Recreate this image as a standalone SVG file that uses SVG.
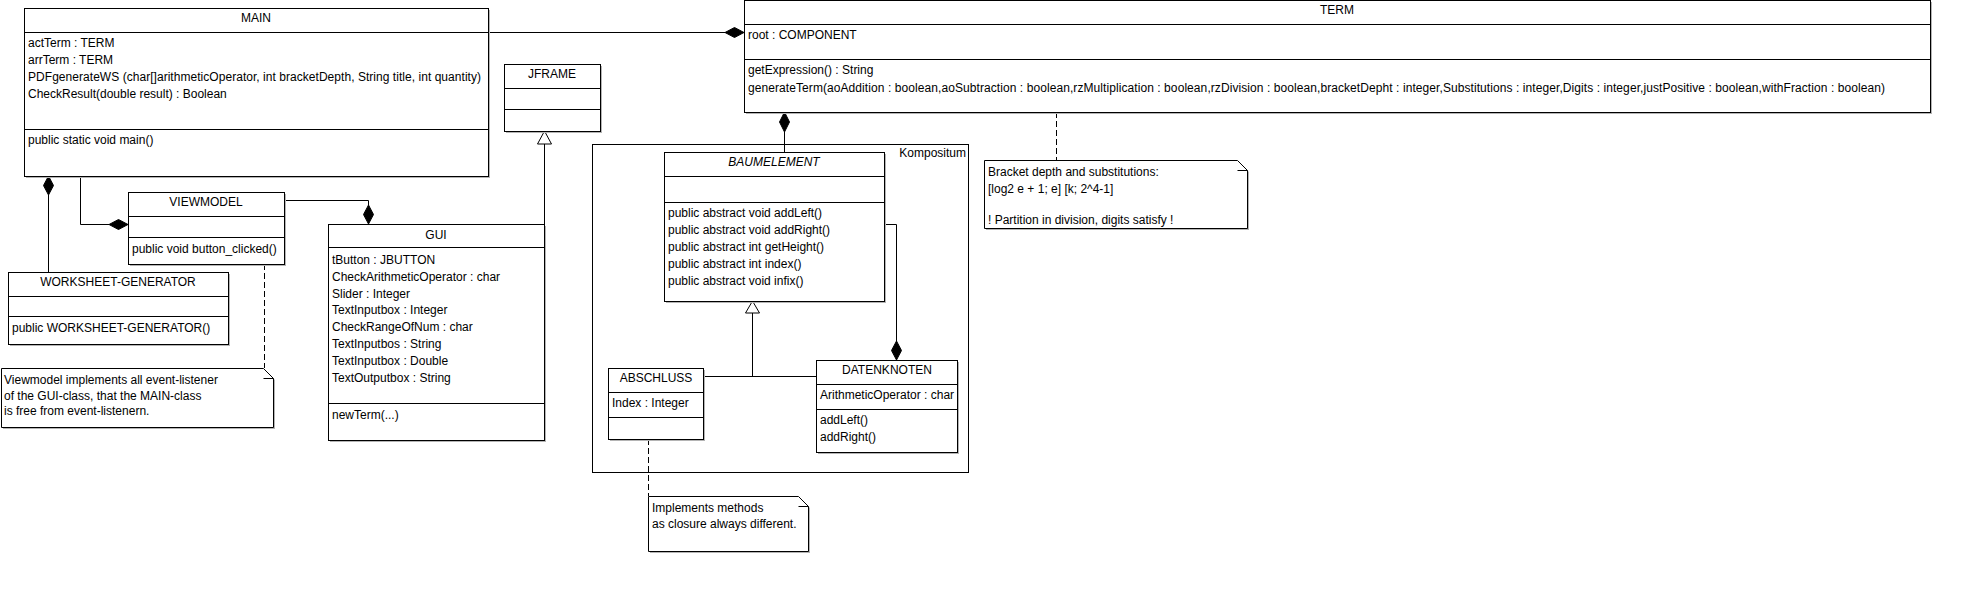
<svg xmlns="http://www.w3.org/2000/svg" width="1968" height="592" viewBox="0 0 1968 592">
<style>
text{font-family:"Liberation Sans",Arial,sans-serif;font-size:12px;fill:#000}
.c{text-anchor:middle}
.r{text-anchor:end}
.i{font-style:italic}
.box{fill:#fff;stroke:#000;stroke-width:1}
.sh{fill:#b4b4b4;stroke:none}
.ln{stroke:#000;stroke-width:1;fill:none}
.dash{stroke:#000;stroke-width:1;fill:none;stroke-dasharray:6,3}
.dia{fill:#000;stroke:#000;stroke-width:1}
.tri{fill:#fff;stroke:#000;stroke-width:1}
</style>
<rect width="1968" height="592" fill="#fff"/>

<g id="kompositum">
<rect class="box" x="592.5" y="144.5" width="376" height="328"/>
<text class="r" x="966" y="157">Kompositum</text>
</g>

<g id="connectors">
<line class="ln" x1="488" y1="32.5" x2="725" y2="32.5"/>
<polygon class="dia" points="725,32.5 734.5,27.5 744,32.5 734.5,37.5"/>
<polygon class="dia" points="48.5,176 53.5,185.5 48.5,195 43.5,185.5"/>
<line class="ln" x1="48.5" y1="195" x2="48.5" y2="272"/>
<polyline class="ln" points="80.5,176 80.5,224.5 109,224.5"/>
<polygon class="dia" points="109,224.5 118.5,219.5 128,224.5 118.5,229.5"/>
<polyline class="ln" points="284,200.5 368.5,200.5 368.5,205"/>
<polygon class="dia" points="368.5,205 373.5,214.5 368.5,224 363.5,214.5"/>
<line class="ln" x1="544.5" y1="224" x2="544.5" y2="144"/>
<polygon class="tri" points="544.5,131 551.5,144 537.5,144"/>
<polygon class="dia" points="784.5,112 789.5,122 784.5,132 779.5,122"/>
<line class="ln" x1="784.5" y1="132" x2="784.5" y2="152"/>
<polyline class="ln" points="884,224.5 896.5,224.5 896.5,341"/>
<polygon class="dia" points="896.5,341 901.5,350.5 896.5,360 891.5,350.5"/>
<line class="ln" x1="703" y1="376.5" x2="816" y2="376.5"/>
<line class="ln" x1="752.5" y1="376.5" x2="752.5" y2="313"/>
<polygon class="tri" points="752.5,301 759.5,313 745.5,313"/>
<line class="dash" x1="264.5" y1="264" x2="264.5" y2="368"/>
<line class="dash" x1="1056.5" y1="112" x2="1056.5" y2="160"/>
<line class="dash" x1="648.5" y1="439" x2="648.5" y2="496"/>
</g>

<g id="main">
<rect class="sh" x="26" y="10" width="464" height="168"/>
<rect class="box" x="24.5" y="8.5" width="464" height="168"/>
<line class="ln" x1="24.5" y1="32.5" x2="488.5" y2="32.5"/>
<line class="ln" x1="24.5" y1="129.5" x2="488.5" y2="129.5"/>
<text class="c" x="256" y="22">MAIN</text>
<text x="28" y="47">actTerm : TERM</text>
<text x="28" y="64">arrTerm : TERM</text>
<text x="28" y="81" textLength="453" lengthAdjust="spacing">PDFgenerateWS (char[]arithmeticOperator, int bracketDepth, String title, int quantity)</text>
<text x="28" y="97.5">CheckResult(double result) : Boolean</text>
<text x="28" y="144">public static void main()</text>
</g>

<g id="term">
<rect class="sh" x="746" y="2" width="1186" height="112"/>
<rect class="box" x="744.5" y="0.5" width="1186" height="112"/>
<line class="ln" x1="744.5" y1="24.5" x2="1930.5" y2="24.5"/>
<line class="ln" x1="744.5" y1="59.5" x2="1930.5" y2="59.5"/>
<text class="c" x="1337" y="14">TERM</text>
<text x="748" y="38.5">root : COMPONENT</text>
<text x="748" y="74">getExpression() : String</text>
<text x="748" y="91.5" textLength="1137" lengthAdjust="spacing">generateTerm(aoAddition : boolean,aoSubtraction : boolean,rzMultiplication : boolean,rzDivision : boolean,bracketDepht : integer,Substitutions : integer,Digits : integer,justPositive : boolean,withFraction : boolean)</text>
</g>

<g id="jframe">
<rect class="sh" x="506" y="66" width="96" height="67"/>
<rect class="box" x="504.5" y="64.5" width="96" height="67"/>
<line class="ln" x1="504.5" y1="88.5" x2="600.5" y2="88.5"/>
<line class="ln" x1="504.5" y1="109.5" x2="600.5" y2="109.5"/>
<text class="c" x="552" y="78">JFRAME</text>
</g>

<g id="viewmodel">
<rect class="sh" x="130" y="194" width="156" height="72"/>
<rect class="box" x="128.5" y="192.5" width="156" height="72"/>
<line class="ln" x1="128.5" y1="216.5" x2="284.5" y2="216.5"/>
<line class="ln" x1="128.5" y1="237.5" x2="284.5" y2="237.5"/>
<text class="c" x="206" y="206">VIEWMODEL</text>
<text x="132" y="252.5">public void button_clicked()</text>
</g>

<g id="worksheet-generator">
<rect class="sh" x="10" y="274" width="220" height="72"/>
<rect class="box" x="8.5" y="272.5" width="220" height="72"/>
<line class="ln" x1="8.5" y1="296.5" x2="228.5" y2="296.5"/>
<line class="ln" x1="8.5" y1="316.5" x2="228.5" y2="316.5"/>
<text class="c" x="118" y="286">WORKSHEET-GENERATOR</text>
<text x="12" y="332">public WORKSHEET-GENERATOR()</text>
</g>

<g id="gui">
<rect class="sh" x="330" y="226" width="216" height="216"/>
<rect class="box" x="328.5" y="224.5" width="216" height="216"/>
<line class="ln" x1="328.5" y1="247.5" x2="544.5" y2="247.5"/>
<line class="ln" x1="328.5" y1="403.5" x2="544.5" y2="403.5"/>
<text class="c" x="436" y="239">GUI</text>
<text x="332" y="263.5">tButton : JBUTTON</text>
<text x="332" y="280.5">CheckArithmeticOperator : char</text>
<text x="332" y="297.5">Slider : Integer</text>
<text x="332" y="314">TextInputbox : Integer</text>
<text x="332" y="331">CheckRangeOfNum : char</text>
<text x="332" y="348">TextInputbos : String</text>
<text x="332" y="365">TextInputbox : Double</text>
<text x="332" y="382">TextOutputbox : String</text>
<text x="332" y="418.5">newTerm(...)</text>
</g>

<g id="baumelement">
<rect class="sh" x="666" y="154" width="220" height="149"/>
<rect class="box" x="664.5" y="152.5" width="220" height="149"/>
<line class="ln" x1="664.5" y1="176.5" x2="884.5" y2="176.5"/>
<line class="ln" x1="664.5" y1="202.5" x2="884.5" y2="202.5"/>
<text class="c i" x="774" y="166">BAUMELEMENT</text>
<text x="668" y="217">public abstract void addLeft()</text>
<text x="668" y="234">public abstract void addRight()</text>
<text x="668" y="251">public abstract int getHeight()</text>
<text x="668" y="267.5">public abstract int index()</text>
<text x="668" y="284.5">public abstract void infix()</text>
</g>

<g id="abschluss">
<rect class="sh" x="610" y="370" width="95" height="71"/>
<rect class="box" x="608.5" y="368.5" width="95" height="71"/>
<line class="ln" x1="608.5" y1="392.5" x2="703.5" y2="392.5"/>
<line class="ln" x1="608.5" y1="417.5" x2="703.5" y2="417.5"/>
<text class="c" x="656" y="382">ABSCHLUSS</text>
<text x="612" y="407">Index : Integer</text>
</g>

<g id="datenknoten">
<rect class="sh" x="818" y="362" width="141" height="92"/>
<rect class="box" x="816.5" y="360.5" width="141" height="92"/>
<line class="ln" x1="816.5" y1="384.5" x2="957.5" y2="384.5"/>
<line class="ln" x1="816.5" y1="409.5" x2="957.5" y2="409.5"/>
<text class="c" x="887" y="373.5">DATENKNOTEN</text>
<text x="820" y="398.5">ArithmeticOperator : char</text>
<text x="820" y="424">addLeft()</text>
<text x="820" y="441">addRight()</text>
</g>

<g id="note-term">
<polygon class="sh" points="986,162 1239,162 1249,172 1249,230 986,230"/>
<polygon class="box" points="984.5,160.5 1237.5,160.5 1247.5,170.5 1247.5,228.5 984.5,228.5"/>
<polyline class="ln" points="1237.5,170.5 1247.5,170.5"/>
<text x="988" y="176">Bracket depth and substitutions:</text>
<text x="988" y="192.5">[log2 e + 1; e] [k; 2^4-1]</text>
<text x="988" y="224">! Partition in division, digits satisfy !</text>
</g>

<g id="note-abschluss">
<polygon class="sh" points="650,498 800,498 810,508 810,553 650,553"/>
<polygon class="box" points="648.5,496.5 798.5,496.5 808.5,506.5 808.5,551.5 648.5,551.5"/>
<polyline class="ln" points="798.5,506.5 808.5,506.5"/>
<text x="652" y="512">Implements methods</text>
<text x="652" y="528">as closure always different.</text>
</g>

<g id="note-viewmodel">
<polygon class="sh" points="3,370 265,370 275,380 275,429 3,429"/>
<polygon class="box" points="1.5,368.5 263.5,368.5 273.5,378.5 273.5,427.5 1.5,427.5"/>
<polyline class="ln" points="263.5,378.5 273.5,378.5"/>
<text x="4" y="384">Viewmodel implements all event-listener</text>
<text x="4" y="400">of the GUI-class, that the MAIN-class</text>
<text x="4" y="415">is free from event-listenern.</text>
</g>
</svg>
